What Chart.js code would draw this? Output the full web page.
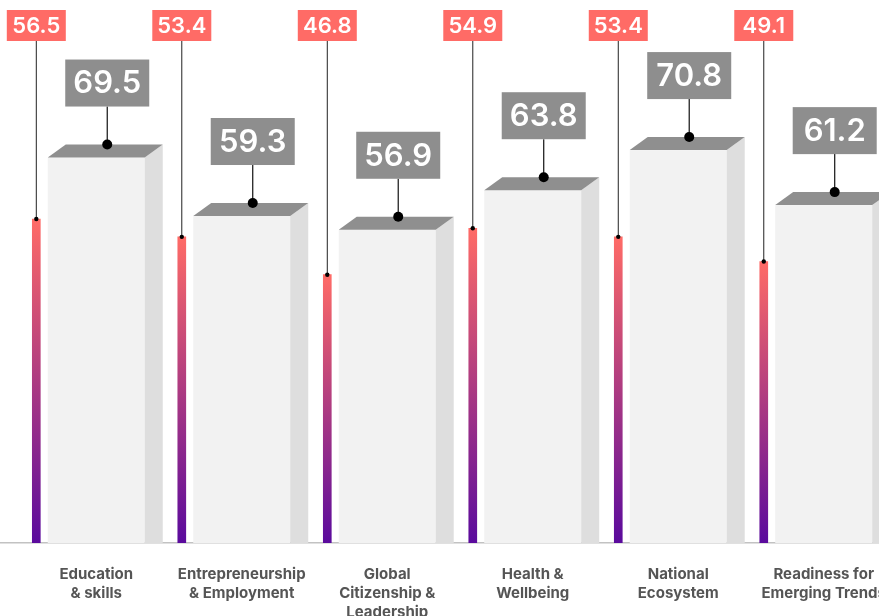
<!DOCTYPE html>
<html>
<head>
<meta charset="utf-8">
<script src="https://cdn.jsdelivr.net/npm/chart.js@4"></script>
<style>
  html, body { margin: 0; padding: 0; background: #fff; overflow: hidden; }
  .chart-wrap { position: relative; width: 879px; height: 616px; }
</style>
</head>
<body>
<div class="chart-wrap"><canvas id="scoreChart"></canvas></div>
<script>
// category names, one entry per line of the axis label
const categories = [
  ['Education', '& skills'],
  ['Entrepreneurship', '& Employment'],
  ['Global', 'Citizenship &', 'Leadership'],
  ['Health &', 'Wellbeing'],
  ['National', 'Ecosystem'],
  ['Readiness for', 'Emerging Trends']
];
const thinValues = [56.5, 53.4, 46.8, 54.9, 53.4, 49.1];
const boxValues = [69.5, 59.3, 56.9, 63.8, 70.8, 61.2];

const THIN_SHIFT = -0.412;   // thin bar sits left of the category centre
const FONT = 'Inter, "Noto Sans", sans-serif';

// per-bar gradient: coral at the top, purple at the base
function thinGradient(ctx) {
  const chart = ctx.chart;
  const y = chart.scales.y;
  if (!chart.chartArea || !y || ctx.dataIndex === undefined) return '#ff6b66';
  const top = y.getPixelForValue(thinValues[ctx.dataIndex]);
  const bottom = y.getPixelForValue(0);
  const g = chart.ctx.createLinearGradient(0, top, 0, bottom);
  g.addColorStop(0, '#ff6b66');
  g.addColorStop(1, '#5a0a9d');
  return g;
}

// draws the 3d boxes and the value tags
const boxPlugin = {
  id: 'boxPlugin',
  afterDatasetsDraw(chart) {
    const ctx = chart.ctx;
    const DX = 18, DY = 13;

    ctx.save();
    chart.getDatasetMeta(1).data.forEach((bar, i) => {
      const { x, y, base, width } = bar.getProps(['x', 'y', 'base', 'width'], true);
      const left = x - width / 2, right = x + width / 2;

      // front face
      ctx.fillStyle = '#f2f2f2';
      ctx.fillRect(left, y + DY, width, base - y - DY);
      // side face
      ctx.fillStyle = '#dedede';
      ctx.beginPath();
      ctx.moveTo(right, y + DY);
      ctx.lineTo(right + DX, y);
      ctx.lineTo(right + DX, base);
      ctx.lineTo(right, base);
      ctx.closePath();
      ctx.fill();
      // top face
      ctx.fillStyle = '#8f8f8f';
      ctx.beginPath();
      ctx.moveTo(left, y + DY);
      ctx.lineTo(right, y + DY);
      ctx.lineTo(right + DX, y);
      ctx.lineTo(left + DX, y);
      ctx.closePath();
      ctx.fill();

      // grey tag with stem and dot
      const cx = x + 11;
      const boxW = 84, boxH = 47, stem = 38;
      ctx.strokeStyle = '#111';
      ctx.lineWidth = 1.2;
      ctx.beginPath();
      ctx.moveTo(cx, y - stem);
      ctx.lineTo(cx, y);
      ctx.stroke();
      ctx.fillStyle = '#000';
      ctx.beginPath();
      ctx.arc(cx, y, 5, 0, Math.PI * 2);
      ctx.fill();
      ctx.fillStyle = '#8e8e8e';
      ctx.fillRect(cx - boxW / 2, y - stem - boxH, boxW, boxH);
      ctx.fillStyle = '#fff';
      ctx.font = '600 31px ' + FONT;
      ctx.textAlign = 'center';
      ctx.textBaseline = 'middle';
      ctx.fillText(boxValues[i].toFixed(1), cx, y - stem - boxH / 2 + 1);
    });

    // red tags along the top, joined to the thin bars
    chart.getDatasetMeta(0).data.forEach((bar, i) => {
      const { x, y } = bar.getProps(['x', 'y'], true);
      const tagW = 59, tagH = 31, tagTop = 10;
      ctx.strokeStyle = '#222';
      ctx.lineWidth = 1;
      ctx.beginPath();
      ctx.moveTo(x, tagTop + tagH);
      ctx.lineTo(x, y);
      ctx.stroke();
      ctx.fillStyle = '#000';
      ctx.beginPath();
      ctx.arc(x, y, 2.2, 0, Math.PI * 2);
      ctx.fill();
      ctx.fillStyle = '#ff6b66';
      ctx.fillRect(x - tagW / 2, tagTop, tagW, tagH);
      ctx.fillStyle = '#fff';
      ctx.font = '600 22px ' + FONT;
      ctx.textAlign = 'center';
      ctx.textBaseline = 'middle';
      ctx.fillText(thinValues[i].toFixed(1), x, tagTop + tagH / 2 + 1);
    });
    ctx.restore();
  }
};

new Chart(document.getElementById('scoreChart'), {
  type: 'bar',
  data: {
    datasets: [
      {
        label: 'thin',
        data: thinValues.map((v, i) => ({ x: i + THIN_SHIFT, y: v })),
        barThickness: 8,
        backgroundColor: thinGradient,
        grouped: false
      },
      {
        label: 'box',
        data: boxValues.map((v, i) => ({ x: i, y: v })),
        barThickness: 97,
        backgroundColor: 'rgba(0,0,0,0)',
        grouped: false
      }
    ]
  },
  options: {
    responsive: true,
    maintainAspectRatio: false,
    animation: false,
    layout: { padding: { top: 27, left: 0, right: 0, bottom: 0 } },
    plugins: {
      legend: { display: false },
      tooltip: { enabled: false }
    },
    scales: {
      x: {
        type: 'linear',
        min: -0.6615,
        max: 5.38,
        offset: false,
        grid: { display: false, drawTicks: false, offset: false },
        border: { display: true, color: '#c2c2c2', width: 1.5 },
        afterBuildTicks: axis => {
          axis.ticks = categories.map((c, i) => ({ value: i }));
        },
        afterFit: axis => {
          axis.height = 73;
          axis.paddingLeft = 0;
          axis.paddingRight = 0;
        },
        ticks: {
          autoSkip: false,
          maxRotation: 0,
          minRotation: 0,
          padding: 22,
          color: '#555',
          font: { family: FONT, size: 15, weight: '700', lineHeight: '19px' },
          callback: v => categories[v]
        }
      },
      y: {
        display: false,
        min: 0,
        max: 90
      }
    }
  },
  plugins: [boxPlugin]
});
</script>
</body>
</html>
